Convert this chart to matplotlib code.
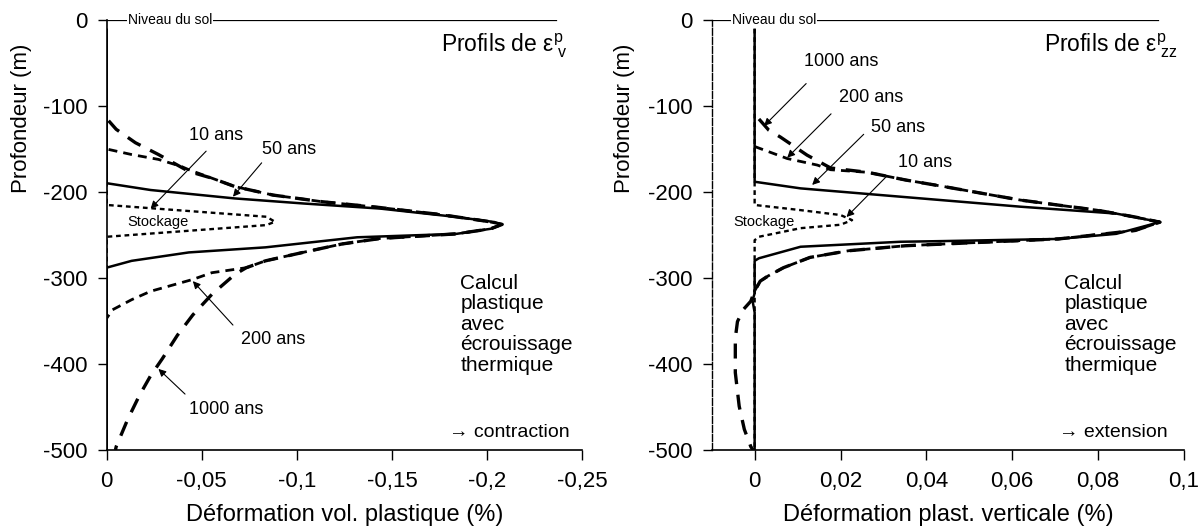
import matplotlib
matplotlib.use('Agg')
import matplotlib.pyplot as plt

plt.rcParams['font.family'] = ['Liberation Sans', 'DejaVu Sans']
plt.rcParams['mathtext.fontset'] = 'custom'
plt.rcParams['mathtext.rm'] = 'Liberation Sans'
plt.rcParams['mathtext.it'] = 'Liberation Sans'

# ---------------- data: left panel (volumetric plastic strain, %) ----------------
left_10_x = [0, 0, -0.084, -0.0885, -0.084, 0, 0]
left_10_y = [-10, -215, -228.7, -234.5, -238.4, -252, -500]

left_50_x = [0, 0, -0.0231, -0.0674, -0.1036, -0.1438, -0.184, -0.204, -0.208, -0.202,
             -0.184, -0.1317, -0.0835, -0.0432, -0.0131, 0, 0]
left_50_y = [-10, -189.7, -197.6, -207.4, -213.3, -219.2, -229, -234.9, -237.6, -242.7,
             -248.6, -252.6, -264.3, -270.2, -280, -287.9, -500]

left_200_x = [-0.001, -0.013, -0.0272, -0.039, -0.0432, -0.0553, -0.0674, -0.0875, -0.1136,
              -0.1438, -0.175, -0.2, -0.208, -0.202, -0.184, -0.1438, -0.1237, -0.1036,
              -0.0835, -0.0734, -0.0553, -0.0453, -0.0231, -0.0131, -0.003, 0]
left_200_y = [-150.4, -156.3, -162, -170, -174, -183.8, -193.6, -203.5, -211.3,
              -218, -226, -234, -237.6, -242.7, -248.6, -254, -260.4, -270,
              -280, -288, -293.8, -301.6, -315.4, -325.2, -337, -346.8]

left_1000_x = [-0.001, -0.005, -0.0151, -0.0272, -0.0432, -0.0553, -0.0674, -0.0875, -0.1136,
               -0.1438, -0.175, -0.2, -0.208, -0.202, -0.184, -0.1438, -0.1237, -0.1036,
               -0.0835, -0.0734, -0.0674, -0.0613, -0.0553, -0.0453, -0.0372, -0.0292,
               -0.0231, -0.0171, -0.011, -0.005, -0.0046]
left_1000_y = [-117, -127, -142.6, -156.3, -176, -183.8, -193.6, -203.5, -211.3,
               -218, -226, -234, -237.6, -242.7, -248.6, -254, -260.4, -270,
               -280, -288, -295.8, -307.5, -319, -342.9, -366.5, -394,
               -413.6, -437, -464.6, -496, -500]

# ---------------- data: right panel (vertical plastic strain, %) ----------------
right_10_x = [0, 0, 0.0107, 0.02, 0.0227, 0.02, 0.0107, 0.001, 0, 0]
right_10_y = [-10, -215, -221, -226.7, -232.6, -238, -242, -252, -256, -500]

right_50_x = [0, 0, 0.0107, 0.034, 0.0619, 0.0842, 0.0944, 0.0842, 0.0708, 0.044,
              0.034, 0.0107, 0.001, 0, 0, -0.0005, 0, 0]
right_50_y = [-10, -188, -195.7, -205.4, -217, -225, -234.9, -248.6, -254.5, -257,
              -257.8, -263.6, -277, -280, -318, -326, -340, -500]

right_200_x = [0, 0.0076, 0.0146, 0.0177, 0.0263, 0.0352, 0.0441, 0.053, 0.0619, 0.0708,
               0.0797, 0.0886, 0.0944, 0.0886, 0.0708, 0.053, 0.0352, 0.0218, 0.0129,
               0.0067, 0.0031, 0.0013, 0, 0]
right_200_y = [-147, -161, -168.6, -174, -177, -186, -193.6, -201.5, -209.3, -215.2,
               -221, -229, -235, -244.7, -254.5, -258.4, -262.4, -268.3, -276,
               -288, -297.7, -303.6, -315, -322]

right_1000_x = [0.001, 0.0033, 0.006, 0.0122, 0.0177, 0.0263, 0.0352, 0.0441, 0.053, 0.0619,
                0.0708, 0.0797, 0.0886, 0.0944, 0.0886, 0.0708, 0.053, 0.0352, 0.0218,
                0.0129, 0.0067, 0.0031, 0.0013, 0, -0.0009, -0.0027, -0.004, -0.0045,
                -0.0045, -0.0036, -0.0024, -0.0009, -0.0004]
right_1000_y = [-115, -128, -136, -157, -172, -177, -186, -193.6, -201.5, -209.3,
                -215.2, -221, -229, -235, -244.7, -254.5, -258.4, -262.4, -268.3,
                -276, -288, -297.7, -303.6, -315, -327, -337, -350.7, -370,
                -410, -449, -476, -496, -500]

depth_ticks = [0, -100, -200, -300, -400, -500]
depth_labels = ['0', '-100', '-200', '-300', '-400', '-500']
left_xticks = [0, -0.05, -0.1, -0.15, -0.2, -0.25]
left_xlabels = ['0', '-0,05', '-0,1', '-0,15', '-0,2', '-0,25']
right_xticks = [0, 0.02, 0.04, 0.06, 0.08, 0.1]
right_xlabels = ['0', '0,02', '0,04', '0,06', '0,08', '0,1']

calc_text = 'Calcul\nplastique\navec\nécrouissage\nthermique'

fig = plt.figure(figsize=(12.03, 5.30), dpi=100)
axL = fig.add_axes([0.0887, 0.151, 0.3951, 0.811])
axR = fig.add_axes([0.5916, 0.151, 0.3926, 0.811])

sty_solid = dict(color='black', lw=1.8, ls='-', solid_capstyle='butt')
sty_dot = dict(color='black', lw=1.7, ls=(0, (2.0, 1.6)))
sty_200 = dict(color='black', lw=2.0, ls=(0, (3.2, 2.2)))
sty_1000 = dict(color='black', lw=2.4, ls=(0, (4.5, 3.2)))

arrow_kw = dict(arrowstyle='-|>', lw=0.8, color='black', mutation_scale=11,
                shrinkA=0, shrinkB=0)

def style_axes(ax, xlim, xticks, xlabels, xlabel, ylab_x):
    ax.set_xlim(*xlim)
    ax.set_ylim(-500, 0)
    ax.set_yticks(depth_ticks)
    ax.set_yticklabels(depth_labels)
    ax.set_xticks(xticks)
    ax.set_xticklabels(xlabels)
    ax.tick_params(axis='both', direction='out', width=1.0,
                   labelsize=16, colors='black')
    ax.tick_params(axis='y', length=6.5, pad=7)
    ax.tick_params(axis='x', length=7.5, pad=8)
    for s in ['top', 'right']:
        ax.spines[s].set_visible(False)
    ax.spines['bottom'].set_linewidth(1.2)
    ax.spines['left'].set_linewidth(1.2)
    ax.set_xlabel(xlabel, fontsize=17, labelpad=8)
    ax.set_ylabel('Profondeur (m)', fontsize=16)
    ax.yaxis.set_label_coords(ylab_x, 0.772)
    ax.axhline(0, xmin=0, xmax=0.945, color='black', lw=0.9)

# ---------------- left panel ----------------
axL.plot(left_10_x, left_10_y, **sty_dot)
axL.plot(left_50_x, left_50_y, **sty_solid)
axL.plot(left_200_x, left_200_y, **sty_200)
axL.plot(left_1000_x, left_1000_y, **sty_1000)
style_axes(axL, (0, -0.25), left_xticks, left_xlabels,
           'Déformation vol. plastique (%)', -0.157)

axL.text(-0.011, 0, 'Niveau du sol', fontsize=10, va='center', ha='left',
         bbox=dict(facecolor='white', edgecolor='none', pad=0.5))
axL.text(-0.2425, -36.5, r'Profils de ε$^{\mathrm{p}}_{\mathrm{\ v}}$', fontsize=16.5,
         ha='right', va='baseline')
axL.text(-0.186, -295, calc_text, fontsize=15, ha='left', va='top', linespacing=1.1)
axL.text(-0.18, -480, '→ contraction', fontsize=14, ha='left', va='center')
axL.text(-0.011, -235, 'Stockage', fontsize=10.5, ha='left', va='center')

axL.text(-0.0432, -134.7, '10 ans', fontsize=13, ha='left', va='center')
axL.annotate('', xy=(-0.0231, -219.2), xytext=(-0.0523, -152.4), arrowprops=arrow_kw)
axL.text(-0.0815, -150.4, '50 ans', fontsize=13, ha='left', va='center')
axL.annotate('', xy=(-0.0664, -205.4), xytext=(-0.0815, -166), arrowprops=arrow_kw)
axL.text(-0.0704, -371, '200 ans', fontsize=13, ha='left', va='center')
axL.annotate('', xy=(-0.0453, -303.6), xytext=(-0.0664, -354.7), arrowprops=arrow_kw)
axL.text(-0.0432, -452.9, '1000 ans', fontsize=13, ha='left', va='center')
axL.annotate('', xy=(-0.0272, -405.7), xytext=(-0.0412, -435), arrowprops=arrow_kw)

# ---------------- right panel ----------------
axR.plot(right_10_x, right_10_y, **sty_dot)
axR.plot(right_50_x, right_50_y, **sty_solid)
axR.plot(right_200_x, right_200_y, **sty_200)
axR.plot(right_1000_x, right_1000_y, **sty_1000)
style_axes(axR, (-0.01, 0.1), right_xticks, right_xlabels,
           'Déformation plast. verticale (%)', -0.162)
axR.spines['left'].set_linestyle((0, (5, 1.5)))
axR.spines['left'].set_linewidth(1.0)

axR.text(-0.0053, 0, 'Niveau du sol', fontsize=10, va='center', ha='left',
         bbox=dict(facecolor='white', edgecolor='none', pad=0.5))
axR.text(0.0985, -36.5, r'Profils de ε$^{\mathrm{p}}_{\mathrm{\ zz}}$', fontsize=16.5,
         ha='right', va='baseline')
axR.text(0.0721, -295, calc_text, fontsize=15, ha='left', va='top', linespacing=1.1)
axR.text(0.0708, -480, '→ extension', fontsize=14, ha='left', va='center')
axR.text(-0.0049, -235, 'Stockage', fontsize=10.5, ha='left', va='center')

axR.text(0.0116, -48.3, '1000 ans', fontsize=13, ha='left', va='center')
axR.annotate('', xy=(0.0022, -123), xytext=(0.012, -73.8), arrowprops=arrow_kw)
axR.text(0.0196, -89.6, '200 ans', fontsize=13, ha='left', va='center')
axR.annotate('', xy=(0.0076, -160), xytext=(0.0178, -109), arrowprops=arrow_kw)
axR.text(0.0272, -125, '50 ans', fontsize=13, ha='left', va='center')
axR.annotate('', xy=(0.0134, -191.7), xytext=(0.0254, -132.8), arrowprops=arrow_kw)
axR.text(0.0334, -165.4, '10 ans', fontsize=13, ha='left', va='center')
axR.annotate('', xy=(0.0214, -229), xytext=(0.0307, -181.9), arrowprops=arrow_kw)

fig.savefig('out.png', dpi=100, facecolor='white')
